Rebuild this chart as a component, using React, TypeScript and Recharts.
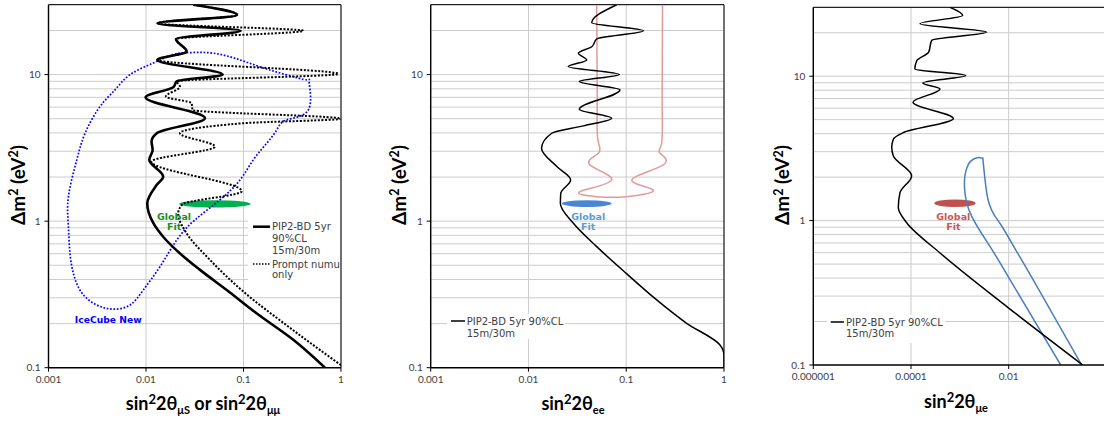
import React from 'react';
import { LineChart, Line, XAxis, YAxis, CartesianGrid, ReferenceLine, ReferenceArea, ReferenceDot } from 'recharts';

// ---------- shared ----------
const yTicks = [0.1, 1, 10];
const yGridValues = [0.2, 0.3, 0.4, 0.5, 0.6, 0.7, 0.8, 0.9, 1, 2, 3, 4, 5, 6, 7, 8, 9, 10, 20];
const yDomain = [0.1, 30];
const xTicksA = [0.001, 0.01, 0.1, 1];
const xTicksC = [0.000001, 0.0001, 0.01];
const xGridC = [0.000001, 0.0001, 0.01, 1];

// ---------- panel 1 (mu disappearance) ----------
const p1SolidY = [30, 25.5, 22.4, 19.9, 17.5, 14.4, 12.6, 10.0, 9.0, 8.2, 7.0, 5.04, 3.98, 3.49, 3.06, 2.62, 2.01, 1.77, 1.32, 0.968, 0.783, 0.604, 0.465, 0.339, 0.235, 0.155, 0.1];
const p1SolidX = [0.0305, 0.086, 0.0131, 0.0935, 0.0203, 0.0261, 0.0131, 0.0612, 0.0207, 0.019, 0.0099, 0.0403, 0.0129, 0.0114, 0.0117, 0.0108, 0.015, 0.0129, 0.0103, 0.0119, 0.015, 0.0222, 0.0358, 0.0673, 0.136, 0.324, 0.685];
const p1PromptY = [30, 25.5, 22.4, 19.9, 17.5, 14.4, 12.6, 10.1, 9.0, 8.28, 7.08, 6.38, 5.74, 5.0, 4.66, 3.98, 3.23, 2.55, 1.6, 1.3, 1.13, 0.826, 0.544, 0.33, 0.187, 0.104];
const p1PromptX = [0.0305, 0.086, 0.0131, 0.41, 0.0203, 0.0261, 0.0131, 0.94, 0.0207, 0.0223, 0.016, 0.0294, 0.03, 1.0, 0.1, 0.0223, 0.051, 0.0114, 0.096, 0.0235, 0.0214, 0.0261, 0.0453, 0.1, 0.3, 1.0];
const iceCubeX = [0.0261, 0.019, 0.0119, 0.00686, 0.00481, 0.00337, 0.00237, 0.00195, 0.0016, 0.0016, 0.00169, 0.0021, 0.00312, 0.00463, 0.00686, 0.00938, 0.0139, 0.0207, 0.0318, 0.0574, 0.092, 0.126, 0.173, 0.219, 0.277, 0.462, 0.473, 0.45, 0.277, 0.16, 0.092, 0.049, 0.0261];
const iceCubeY = [14.1, 13.7, 12.0, 10.0, 7.87, 6.05, 3.98, 2.62, 1.47, 0.917, 0.544, 0.339, 0.268, 0.251, 0.268, 0.339, 0.489, 0.745, 1.02, 1.4, 1.91, 2.62, 3.4, 4.2, 4.91, 5.74, 8.73, 9.2, 9.96, 11.1, 12.6, 14.0, 14.1];
const p1Fit = { x1: 0.0218, x2: 0.1186, y1: 1.24, y2: 1.39 };
const p1FitLabel = { x: 0.0194, y: 0.99 };
const iceCubeLabel = { x: 0.0041, y: 0.214 };

// ---------- panel 2 (e disappearance) ----------
const p2SolidY = [30, 22.6, 19.9, 17.5, 15.5, 14.0, 12.6, 11.35, 10.0, 8.96, 7.87, 5.81, 5.04, 4.47, 3.98, 3.15, 2.36, 1.91, 1.55, 1.32, 0.968, 0.67, 0.44, 0.29, 0.201, 0.143, 0.122, 0.1];
const p2SolidX = [0.0798, 0.0444, 0.15, 0.0499, 0.0444, 0.0324, 0.0394, 0.0255, 0.0849, 0.0331, 0.0863, 0.0331, 0.071, 0.0364, 0.0173, 0.0136, 0.0195, 0.027, 0.0214, 0.0212, 0.0288, 0.0499, 0.1, 0.205, 0.415, 0.91, 1.0, 1.0];
const p2PinkX = [0.0499, 0.0505, 0.0512, 0.0518, 0.0425, 0.071, 0.0336, 0.0499, 0.101, 0.189, 0.114, 0.239, 0.221, 0.23, 0.233, 0.235];
const p2PinkY = [30, 6.7, 3.6, 2.91, 2.42, 1.91, 1.59, 1.47, 1.47, 1.63, 1.91, 2.42, 2.91, 3.4, 6.7, 30];
const p2Fit = { x1: 0.0219, x2: 0.071, y1: 1.25, y2: 1.39 };
const p2FitLabel = { x: 0.0409, y: 0.99 };

// ---------- panel 3 (mu -> e appearance) ----------
const p3SolidY = [30, 26.3, 23.1, 20.2, 17.7, 14.7, 12.8, 11.2, 10.1, 8.98, 8.15, 6.6, 5.09, 4.07, 3.66, 3.23, 2.8, 2.04, 1.56, 1.23, 0.966, 0.597, 0.248, 0.1];
const p3SolidX = [0.000628, 0.00114, 0.000153, 0.00355, 0.000265, 0.00023, 0.000131, 0.00012, 0.00132, 0.000174, 0.000393, 0.00011, 0.000735, 0.0000695, 0.0000435, 0.0000403, 0.0000435, 0.000103, 0.0000595, 0.000055, 0.0000817, 0.000393, 0.01, 0.327];
const p3BlueX = [0.116, 0.0097, 0.00404, 0.00175, 0.00127, 0.00127, 0.00149, 0.00188, 0.0025, 0.0029, 0.003, 0.00343, 0.00395, 0.005, 0.0073, 0.0138, 0.0289, 0.312];
const p3BlueY = [0.1, 0.411, 0.671, 1.07, 1.56, 2.04, 2.45, 2.66, 2.73, 2.7, 2.55, 1.69, 1.32, 1.1, 0.91, 0.63, 0.411, 0.1];
const p3Fit = { x1: 0.0003, x2: 0.00211, y1: 1.24, y2: 1.4 };
const p3FitLabel = { x: 0.000735, y: 0.99 };

const zip = (xs: number[], ys: number[]) => xs.map((x, i) => ({ x, y: ys[i] }));

const tickStyle = { fontSize: 10, fontFamily: "Lato, 'Liberation Sans', sans-serif", fill: '#404040' };
const fmt = (v: number) => String(v);

const ellipseShape = (color: string) => (p: any) => (
  <ellipse cx={p.x + p.width / 2} cy={p.y + p.height / 2} rx={p.width / 2} ry={p.height / 2} fill={color} />
);
const twoLineLabel = (color: string, a: string, b: string) => (p: any) => (
  <text x={p.cx} y={p.cy} textAnchor="middle" fontFamily="'DejaVu Sans', Verdana, sans-serif" fontWeight={700} fontSize={9.5} fill={color}>
    <tspan x={p.cx} dy={-1.5}>{a}</tspan>
    <tspan x={p.cx} dy={10}>{b}</tspan>
  </text>
);
const oneLineLabel = (color: string, a: string) => (p: any) => (
  <text x={p.cx} y={p.cy + 3.5} textAnchor="middle" fontFamily="'DejaVu Sans', Verdana, sans-serif" fontWeight={700} fontSize={9.2} fill={color}>{a}</text>
);

function axes(xDomain: number[], xTicks: number[], xGrid: number[]) {
  return [
    <CartesianGrid key="g" horizontalValues={yGridValues} verticalValues={xGrid}
      horizontal={{ stroke: '#dadada', strokeWidth: 1.2 }} vertical={{ stroke: '#c8c8c8', strokeWidth: 1 }} />,
    <XAxis key="x" type="number" dataKey="x" scale="log" domain={xDomain} allowDataOverflow ticks={xTicks}
      tickFormatter={fmt} tick={tickStyle} tickSize={4} tickMargin={4} height={30}
      axisLine={{ stroke: '#000', strokeWidth: 1.4 }} tickLine={{ stroke: '#000' }} interval={0} />,
    <YAxis key="y" type="number" dataKey="y" scale="log" domain={yDomain} allowDataOverflow ticks={yTicks}
      tickFormatter={fmt} tick={tickStyle} tickSize={4} tickMargin={4} width={40}
      axisLine={{ stroke: '#000', strokeWidth: 1.4 }} tickLine={{ stroke: '#000' }} interval={0} />,
    <ReferenceLine key="top" y={30} stroke="#222" strokeWidth={1.2} />,
  ];
}

function Panel1() {
  return (
    <LineChart width={370} height={421} margin={{ top: 4.7, right: 29, bottom: 23.3, left: 8.5 }}>
      {axes([0.001, 1], xTicksA, xTicksA)}
      <ReferenceLine x={1} stroke="#222" strokeWidth={1.2} />
      <Line data={zip(iceCubeX, iceCubeY)} dataKey="y" type="natural" stroke="#0000ff" strokeWidth={1.7} strokeDasharray="1.7 1.7" dot={false} isAnimationActive={false} />
      <Line data={zip(p1PromptX, p1PromptY)} dataKey="y" type="monotoneY" stroke="#000" strokeWidth={2} strokeDasharray="2 1.6" dot={false} isAnimationActive={false} />
      <Line data={zip(p1SolidX, p1SolidY)} dataKey="y" type="monotoneY" stroke="#000" strokeWidth={2.6} dot={false} isAnimationActive={false} />
      <ReferenceArea x1={p1Fit.x1} x2={p1Fit.x2} y1={p1Fit.y1} y2={p1Fit.y2} shape={ellipseShape('#00b050')} />
      <ReferenceDot x={p1FitLabel.x} y={p1FitLabel.y} r={0} shape={twoLineLabel('#1a8f1a', 'Global', 'Fit')} />
      <ReferenceDot x={iceCubeLabel.x} y={iceCubeLabel.y} r={0} shape={oneLineLabel('#0000ff', 'IceCube New')} />
    </LineChart>
  );
}

function Panel2() {
  return (
    <LineChart width={370} height={421} margin={{ top: 4.7, right: 16, bottom: 23.3, left: 20.7 }}>
      {axes([0.001, 1], xTicksA, xTicksA)}
      <ReferenceLine x={1} stroke="#222" strokeWidth={1.2} />
      <Line data={zip(p2PinkX, p2PinkY)} dataKey="y" type="natural" stroke="#e39a9a" strokeWidth={1.5} dot={false} isAnimationActive={false} />
      <Line data={zip(p2SolidX, p2SolidY)} dataKey="y" type="monotoneY" stroke="#000" strokeWidth={1.5} dot={false} isAnimationActive={false} />
      <ReferenceArea x1={p2Fit.x1} x2={p2Fit.x2} y1={p2Fit.y1} y2={p2Fit.y2} shape={ellipseShape('#4a86d4')} />
      <ReferenceDot x={p2FitLabel.x} y={p2FitLabel.y} r={0} shape={twoLineLabel('#5b9bd5', 'Global', 'Fit')} />
    </LineChart>
  );
}

function Panel3() {
  return (
    <LineChart width={370} height={421} margin={{ top: 7.3, right: 3.6, bottom: 26, left: 33.3 }}>
      {axes([0.000001, 1], xTicksC, xGridC)}
      <Line data={zip(p3BlueX, p3BlueY)} dataKey="y" type="natural" stroke="#4a7ebb" strokeWidth={1.5} dot={false} isAnimationActive={false} />
      <Line data={zip(p3SolidX, p3SolidY)} dataKey="y" type="monotoneY" stroke="#000" strokeWidth={1.5} dot={false} isAnimationActive={false} />
      <ReferenceArea x1={p3Fit.x1} x2={p3Fit.x2} y1={p3Fit.y1} y2={p3Fit.y2} shape={ellipseShape('#c0504d')} />
      <ReferenceDot x={p3FitLabel.x} y={p3FitLabel.y} r={0} shape={twoLineLabel('#cc5555', 'Global', 'Fit')} />
    </LineChart>
  );
}

const titleFont = "Lato, 'Open Sans', sans-serif";
const legendFont = "'DejaVu Sans', Verdana, sans-serif";

function YTitle({ cx, cy }: { cx: number; cy: number }) {
  return (
    <text transform={`translate(${cx} ${cy}) rotate(-90)`} x={0} y={6.5} textAnchor="middle" fontFamily={titleFont} fontWeight={700} fontSize={19} fill="#000">
      Δm<tspan dy={-6.5} fontSize={12.5}>2</tspan><tspan dy={6.5}> (eV</tspan><tspan dy={-6.5} fontSize={12.5}>2</tspan><tspan dy={6.5}>)</tspan>
    </text>
  );
}

function Overlay() {
  return (
    <svg width={1104} height={421} style={{ position: 'absolute', left: 0, top: 0, pointerEvents: 'none' }}>
      <YTitle cx={18} cy={185} />
      <YTitle cx={399} cy={185} />
      <YTitle cx={782.5} cy={185} />
      <text x={203} y={410} textAnchor="middle" fontFamily={titleFont} fontWeight={700} fontSize={18} fill="#000">
        sin<tspan dy={-6} fontSize={13}>2</tspan><tspan dy={6}>2θ</tspan><tspan dy={4} fontSize={11}>μS</tspan><tspan dy={-4}> or sin</tspan><tspan dy={-6} fontSize={13}>2</tspan><tspan dy={6}>2θ</tspan><tspan dy={4} fontSize={11}>μμ</tspan>
      </text>
      <text x={573} y={410} textAnchor="middle" fontFamily={titleFont} fontWeight={700} fontSize={18} fill="#000">
        sin<tspan dy={-6} fontSize={13}>2</tspan><tspan dy={6}>2θ</tspan><tspan dy={4} fontSize={11}>ee</tspan>
      </text>
      <text x={956} y={408} textAnchor="middle" fontFamily={titleFont} fontWeight={700} fontSize={18} fill="#000">
        sin<tspan dy={-6} fontSize={13}>2</tspan><tspan dy={6}>2θ</tspan><tspan dy={4} fontSize={11}>μe</tspan>
      </text>

      {/* legend panel 1 */}
      <rect x={248} y={218} width={92} height={66} fill="#fff" />
      <line x1={253} y1={226.7} x2={270} y2={226.7} stroke="#000" strokeWidth={2.5} />
      <line x1={253} y1={264} x2={270} y2={264} stroke="#000" strokeWidth={1.5} strokeDasharray="1.5 1.5" />
      <g fontFamily={legendFont} fontSize={10} fill="#404040">
        <text x={272} y={230.3}>PIP2-BD 5yr</text>
        <text x={272} y={241.9}>90%CL</text>
        <text x={272} y={253.5}>15m/30m</text>
        <text x={272} y={267.6}>Prompt numu</text>
        <text x={272} y={278}>only</text>
      </g>

      {/* legend panel 2 */}
      <rect x={447} y={314} width={118} height={25} fill="#fff" />
      <line x1={451} y1={321} x2={465} y2={321} stroke="#000" strokeWidth={1.5} />
      <g fontFamily={legendFont} fontSize={10} fill="#404040">
        <text x={466.7} y={324.6}>PIP2-BD 5yr 90%CL</text>
        <text x={466.7} y={336.6}>15m/30m</text>
      </g>

      {/* legend panel 3 */}
      <rect x={827} y={315} width={118} height={28} fill="#fff" />
      <line x1={830.7} y1={322} x2={844} y2={322} stroke="#000" strokeWidth={1.5} />
      <g fontFamily={legendFont} fontSize={10} fill="#404040">
        <text x={846} y={325.6}>PIP2-BD 5yr 90%CL</text>
        <text x={846} y={337.1}>15m/30m</text>
      </g>
    </svg>
  );
}

export default function App() {
  return (
    <div style={{ position: 'absolute', left: 0, top: 0, width: 1104, height: 421, overflow: 'hidden', background: '#fff' }}>
      <div style={{ position: 'absolute', left: 0, top: 0 }}><Panel1 /></div>
      <div style={{ position: 'absolute', left: 370, top: 0 }}><Panel2 /></div>
      <div style={{ position: 'absolute', left: 740, top: 0 }}><Panel3 /></div>
      <Overlay />
    </div>
  );
}
